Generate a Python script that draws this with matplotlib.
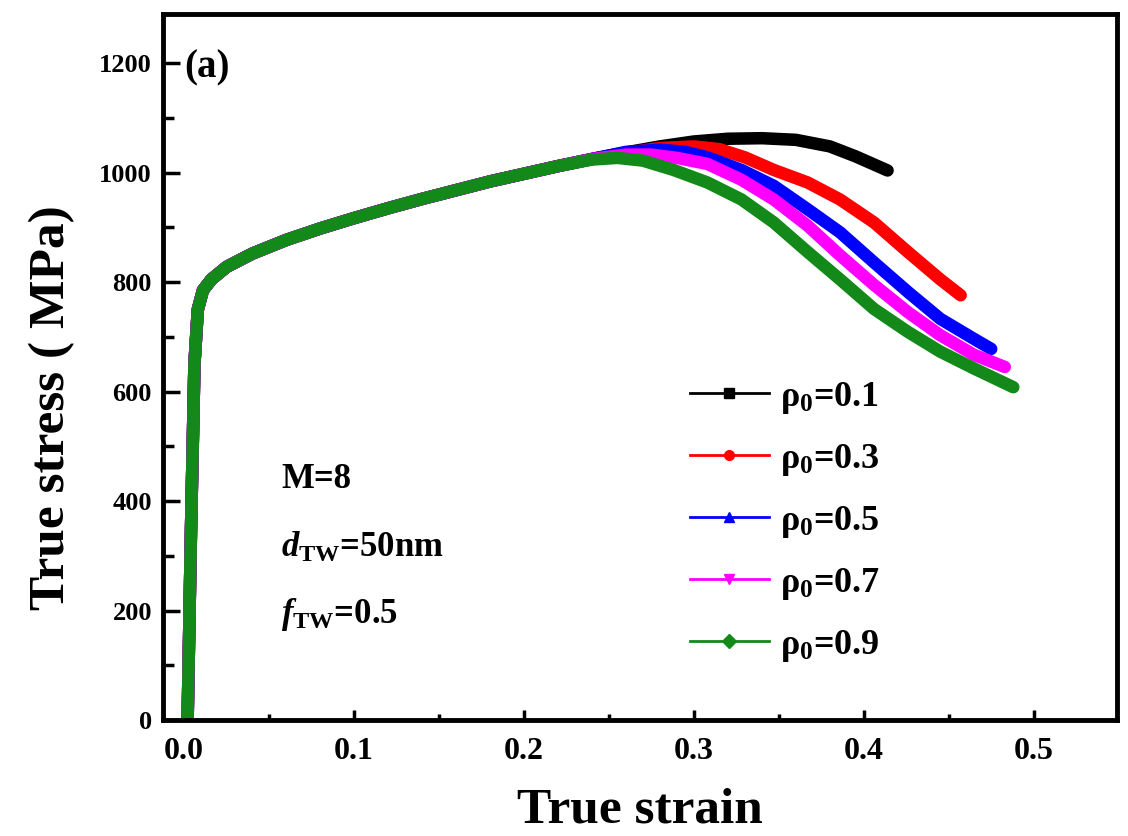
import numpy as np
import matplotlib
matplotlib.use("Agg")
import matplotlib.pyplot as plt
from matplotlib.lines import Line2D
from matplotlib.ticker import MultipleLocator, FormatStrFormatter

plt.rcParams['font.family'] = ['Liberation Serif', 'DejaVu Serif']
plt.rcParams['font.weight'] = 'bold'
plt.rcParams['mathtext.fontset'] = 'custom'
plt.rcParams['mathtext.rm'] = 'Liberation Serif:bold'
plt.rcParams['mathtext.it'] = 'Liberation Serif:italic:bold'
plt.rcParams['mathtext.bf'] = 'Liberation Serif:bold'

# gemensam del (elastisk + hårdnande), samma för alla kurvor
common_strain = [0.002, 0.004, 0.006, 0.008, 0.011, 0.016, 0.025, 0.04, 0.06, 0.08,
                 0.10, 0.12, 0.14, 0.16, 0.18, 0.20, 0.22]
common_stress = [0, 350, 650, 750, 785, 805, 828, 852, 877, 898,
                 917, 935, 952, 968, 984, 998, 1012]

# mjuknande del per rho_0
strain_01 = [0.24, 0.26, 0.28, 0.30, 0.32, 0.34, 0.36, 0.38, 0.395, 0.414]
stress_01 = [1025, 1037, 1048, 1057, 1062, 1063, 1060, 1048, 1030, 1004]

strain_03 = [0.24, 0.26, 0.28, 0.30, 0.315, 0.33, 0.347, 0.367, 0.386, 0.406, 0.426, 0.445, 0.457]
stress_03 = [1025, 1036, 1045, 1048, 1043, 1028, 1005, 982, 951, 909, 855, 805, 776]

strain_05 = [0.24, 0.26, 0.28, 0.295, 0.308, 0.328, 0.347, 0.367, 0.386, 0.406, 0.426, 0.445, 0.465, 0.475]
stress_05 = [1025, 1038, 1042, 1038, 1028, 1005, 976, 933, 891, 836, 782, 733, 696, 678]

strain_07 = [0.24, 0.26, 0.275, 0.29, 0.308, 0.328, 0.347, 0.367, 0.386, 0.406, 0.426, 0.445, 0.465, 0.483]
stress_07 = [1025, 1033, 1033, 1027, 1016, 987, 951, 903, 849, 795, 745, 703, 667, 645]

strain_09 = [0.24, 0.255, 0.27, 0.288, 0.308, 0.328, 0.347, 0.367, 0.386, 0.406, 0.426, 0.445, 0.465, 0.488]
stress_09 = [1024, 1027, 1022, 1005, 982, 951, 909, 855, 805, 751, 709, 673, 642, 608]

labels = ['0.1', '0.3', '0.5', '0.7', '0.9']
colors = ['black', '#ff0000', '#0000ff', '#ff00ff', '#13891a']
markers = ['s', 'o', '^', 'v', 'D']

tails = [(strain_01, stress_01), (strain_03, stress_03), (strain_05, stress_05),
         (strain_07, stress_07), (strain_09, stress_09)]

fig = plt.figure(figsize=(11.28, 8.36), dpi=100)
ax = fig.add_axes([0.1445, 0.1388, 0.8457, 0.8445])

for (s, t), c in zip(tails, colors):
    x = np.concatenate([common_strain, s])
    y = np.concatenate([common_stress, t])
    ax.plot(x, y, color=c, lw=9, solid_capstyle='round', solid_joinstyle='round')

ax.set_xlim(-0.0125, 0.549)
ax.set_ylim(0, 1290)

ax.xaxis.set_major_locator(MultipleLocator(0.1))
ax.xaxis.set_minor_locator(MultipleLocator(0.05))
ax.xaxis.set_major_formatter(FormatStrFormatter('%.1f'))
ax.yaxis.set_major_locator(MultipleLocator(200))
ax.yaxis.set_minor_locator(MultipleLocator(100))

ax.tick_params(axis='x', which='major', direction='in', length=7, width=2.5, labelsize=23, pad=12)
ax.tick_params(axis='x', which='minor', direction='in', length=4, width=2.5)
ax.tick_params(axis='y', which='major', direction='in', length=12, width=2.5, labelsize=19, pad=8)
ax.tick_params(axis='y', which='minor', direction='in', length=8, width=2.5)
for sp in ax.spines.values():
    sp.set_linewidth(3.5)

ax.set_xlabel('True strain', fontsize=37, fontweight='bold', labelpad=16)
ax.set_ylabel('True stress ( MPa)', fontsize=37, fontweight='bold', labelpad=10)
ax.yaxis.set_label_coords(-0.092, 0.442)

# text i grafen
ax.text(0.0, 1191, '(a)', fontsize=28, fontweight='bold', va='center', ha='left')
ax.text(0.057, 440, 'M=8', fontsize=25, fontweight='bold', va='center')
ax.text(0.057, 315, r'$d_{\mathrm{TW}}$=50nm', fontsize=25, fontweight='bold', va='center')
ax.text(0.057, 193, r'$f_{\mathrm{TW}}$=0.5', fontsize=25, fontweight='bold', va='center')

handles = [Line2D([0], [0], color=c, lw=2, marker=m, markersize=7) for c, m in zip(colors, markers)]
ax.legend(handles, [r'ρ$_0$=' + l for l in labels], loc='center left',
          bbox_to_anchor=(0.552, 0.281), frameon=False, fontsize=26,
          handlelength=2.2, handletextpad=0.3, labelspacing=0.72,
          borderpad=0, borderaxespad=0)

fig.savefig('out.png', dpi=100)
